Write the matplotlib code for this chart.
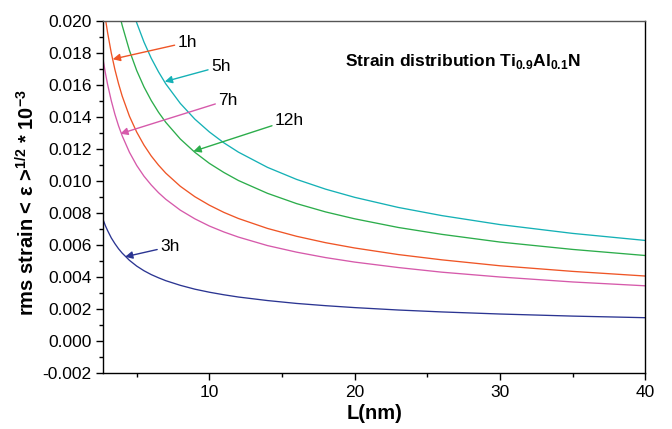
import numpy as np
import matplotlib
matplotlib.use("Agg")
import matplotlib.pyplot as plt
from matplotlib.ticker import MultipleLocator, FormatStrFormatter

plt.rcParams['font.family'] = ['Liberation Sans', 'DejaVu Sans']
plt.rcParams['mathtext.fontset'] = 'custom'
plt.rcParams['mathtext.rm'] = 'Liberation Sans'
plt.rcParams['mathtext.bf'] = 'Liberation Sans:bold'

# values, strain in units of 1e-3
L_grid = [2.7, 2.85, 3.0, 3.25, 3.5, 3.75, 4.0, 4.5, 5.0, 5.5, 6.0, 6.5, 7.0, 8.0, 9.0,
          10, 11, 12, 14, 16, 18, 20, 23, 26, 30, 35, 40]

s_1h = [21.08, 20.10, 19.24, 17.99, 16.95, 16.07, 15.30, 14.04, 13.05, 12.24, 11.56, 10.99, 10.49,
        9.67, 9.02, 8.49, 8.04, 7.66, 7.04, 6.55, 6.15, 5.82, 5.41, 5.08, 4.71, 4.36, 4.07]
s_3h = [7.55, 7.20, 6.90, 6.45, 6.09, 5.77, 5.50, 5.05, 4.69, 4.40, 4.16, 3.96, 3.78,
        3.49, 3.25, 3.06, 2.90, 2.76, 2.54, 2.36, 2.22, 2.10, 1.95, 1.83, 1.70, 1.57, 1.47]
s_7h = [17.50, 16.71, 16.01, 15.01, 14.16, 13.44, 12.82, 11.79, 10.97, 10.30, 9.75, 9.27, 8.86,
        8.18, 7.64, 7.19, 6.82, 6.50, 5.97, 5.56, 5.22, 4.94, 4.60, 4.31, 4.01, 3.70, 3.46]

L_5h = [4.9, 5.0, 5.5, 6.0, 6.5, 7.0, 8.0, 9.0, 10, 11, 12, 14, 16, 18, 20, 23, 26, 30, 35, 40]
s_5h = [20.14, 19.87, 18.67, 17.66, 16.81, 16.06, 14.84, 13.86, 13.06, 12.38, 11.80, 10.85,
        10.10, 9.49, 8.98, 8.35, 7.84, 7.28, 6.73, 6.29]

L_12h = [3.85, 4.0, 4.5, 5.0, 5.5, 6.0, 6.5, 7.0, 8.0, 9.0, 10, 11, 12, 14, 16, 18, 20, 23, 26, 30, 35, 40]
s_12h = [20.26, 19.71, 18.14, 16.89, 15.87, 15.02, 14.29, 13.66, 12.62, 11.79, 11.10, 10.53,
         10.03, 9.23, 8.59, 8.07, 7.64, 7.10, 6.67, 6.19, 5.73, 5.35]

series = [
    ("1h", L_grid, s_1h, "#ef5526"),
    ("3h", L_grid, s_3h, "#2b3592"),
    ("5h", L_5h, s_5h, "#15b1b6"),
    ("7h", L_grid, s_7h, "#d65aab"),
    ("12h", L_12h, s_12h, "#2cad4b"),
]

# label text position and arrow tip for each curve
labels = {
    "1h": ((7.8, 18.65), (3.35, 17.6)),
    "3h": ((6.6, 5.9), (4.2, 5.27)),
    "5h": ((10.1, 17.15), (6.93, 16.2)),
    "7h": ((10.6, 15.05), (3.87, 12.95)),
    "12h": ((14.5, 13.8), (8.9, 11.85)),
}

fig = plt.figure(figsize=(6.72, 4.29), dpi=100)
ax = fig.add_axes([0.1537, 0.1298, 0.8066, 0.8219])

for name, L, s, c in series:
    ax.plot(L, np.array(s) * 1e-3, color=c, lw=0.95)
    (tx, ty), (hx, hy) = labels[name]
    ax.annotate(name, xy=(hx, hy * 1e-3), xytext=(tx, ty * 1e-3),
                fontsize=12.5, va="center", ha="left",
                arrowprops=dict(arrowstyle="-|>", color=c, lw=1.0,
                                mutation_scale=11, shrinkA=0, shrinkB=0))

ax.text(19.3, 17.45e-3, r"Strain distribution Ti$_{\mathbf{0.9}}$Al$_{\mathbf{0.1}}$N",
        fontsize=12.5, fontweight="bold", va="center", ha="left")

ax.set_xlim(2.7, 40)
ax.set_ylim(-0.002, 0.020)
ax.xaxis.set_major_locator(MultipleLocator(10))
ax.xaxis.set_minor_locator(MultipleLocator(5))
ax.yaxis.set_major_locator(MultipleLocator(0.002))
ax.yaxis.set_minor_locator(MultipleLocator(0.001))
ax.yaxis.set_major_formatter(FormatStrFormatter("%.3f"))
ax.tick_params(which="major", length=5, width=1, labelsize=12.5, direction="out")
ax.tick_params(which="minor", length=3, width=1, direction="out")
for sp in ax.spines.values():
    sp.set_linewidth(1.0)
ax.spines["top"].set_color("#555555")

ax.set_xlabel("L(nm)", fontsize=14.5, fontweight="bold", labelpad=3)
ax.set_ylabel(r"rms strain < ε >$^{\mathbf{1/2}}$ * 10$^{\mathbf{-3}}$",
              fontsize=14.5, fontweight="bold")
ax.yaxis.set_label_coords(-0.12, 0.483)

fig.savefig("out.png", dpi=100)
